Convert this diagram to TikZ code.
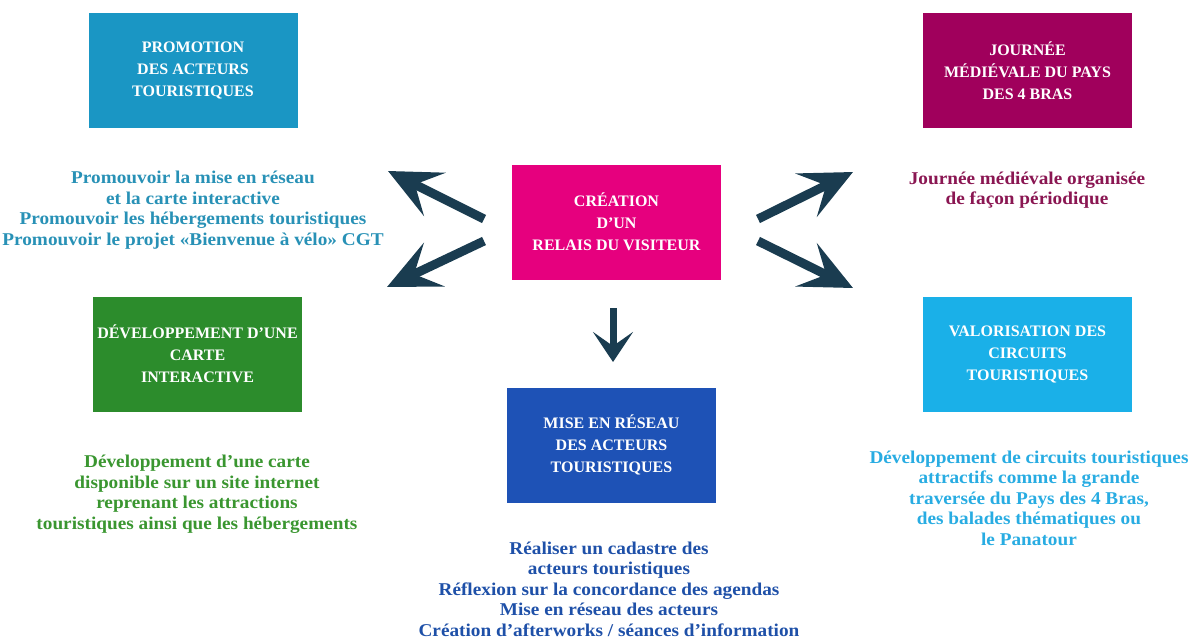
\documentclass[tikz,border=0pt]{standalone}
\usepackage{fontspec}
\setmainfont{Liberation Serif}
\newfontfamily\descfont[FakeStretch=1.07]{Liberation Serif}
\usepackage{tikz}
\usetikzlibrary{arrows.meta}
\definecolor{promo}{RGB}{26, 150, 196}
\definecolor{journee}{RGB}{160, 0, 92}
\definecolor{relais}{RGB}{230, 0, 126}
\definecolor{carte}{RGB}{44, 140, 44}
\definecolor{reseau}{RGB}{30, 82, 182}
\definecolor{circuit}{RGB}{26, 176, 232}
\definecolor{promotxt}{RGB}{40, 145, 182}
\definecolor{journeetxt}{RGB}{138, 22, 82}
\definecolor{cartetxt}{RGB}{58, 150, 48}
\definecolor{reseautxt}{RGB}{30, 80, 168}
\definecolor{circuittxt}{RGB}{40, 172, 226}
\definecolor{fleche}{RGB}{26, 60, 80}

\begin{document}
\begin{tikzpicture}[x=1pt, y=-1pt,
    boite/.style={fill=#1, text=white, align=center, minimum width=209pt, minimum height=115pt,
                  font=\bfseries\fontsize{16}{22}\selectfont},
    texte/.style={text=#1, align=center, font=\descfont\bfseries\fontsize{18}{20.5}\selectfont},
    grosse/.style={draw=fleche, line width=9pt, -{Stealth[length=52pt, width=48pt, inset=22pt]}}]
            \useasboundingbox (0,0) rectangle (1193,640);
            % boites
            \node[boite=promo]   (promo)   at ( 193.0,  70.5) {PROMOTION\\DES ACTEURS\\TOURISTIQUES};
            \node[boite=journee] (journee) at (1027.5,  70.5) {JOURNÉE\\MÉDIÉVALE DU PAYS\\DES 4 BRAS};
            \node[boite=relais]  (relais)  at ( 616.5, 222.0) {CRÉATION\\D’UN\\RELAIS DU VISITEUR};
            \node[boite=carte]   (carte)   at ( 197.5, 354.0) {DÉVELOPPEMENT D’UNE\\CARTE\\INTERACTIVE};
            \node[boite=reseau]  (reseau)  at ( 611.5, 445.0) {MISE EN RÉSEAU\\DES ACTEURS\\TOURISTIQUES};
            \node[boite=circuit] (circuit) at (1027.5, 354.0) {VALORISATION DES\\CIRCUITS\\TOURISTIQUES};
            % textes
            \node[texte=promotxt]   (promoT)   at ( 193, 210) {Promouvoir la mise en réseau\\et la carte interactive\\Promouvoir les hébergements touristiques\\Promouvoir le projet «Bienvenue à vélo» CGT};
            \node[texte=journeetxt] (journeeT) at (1027, 190) {Journée médiévale organisée\\de façon périodique};
            \node[texte=cartetxt]   (carteT)   at ( 197, 494) {Développement d’une carte\\disponible sur un site internet\\reprenant les attractions\\touristiques ainsi que les hébergements};
            \node[texte=reseautxt]  (reseauT)  at ( 609, 589) {Réaliser un cadastre des\\acteurs touristiques\\Réflexion sur la concordance des agendas\\Mise en réseau des acteurs\\Création d’afterworks / séances d’information};
            \node[texte=circuittxt] (circuitT) at (1029, 498) {Développement de circuits touristiques\\attractifs comme la grande\\traversée du Pays des 4 Bras,\\des balades thématiques ou\\le Panatour};
            % fleches
            \coordinate (hg0) at (484, 219);  \coordinate (hg1) at (388, 171);
            \coordinate (bg0) at (484, 241);  \coordinate (bg1) at (387, 287);
            \coordinate (hd0) at (758, 219);  \coordinate (hd1) at (853, 172);
            \coordinate (bd0) at (758, 241);  \coordinate (bd1) at (853, 288);
            \coordinate (b0)  at (613, 308);  \coordinate (b1)  at (613, 362);
            \draw[grosse] (hg0) -- (hg1);
            \draw[grosse] (bg0) -- (bg1);
            \draw[grosse] (hd0) -- (hd1);
            \draw[grosse] (bd0) -- (bd1);
            \draw[draw=fleche, line width=7pt, -{Stealth[length=30pt, width=40pt, inset=14pt]}] (b0) -- (b1);
\end{tikzpicture}
\end{document}
